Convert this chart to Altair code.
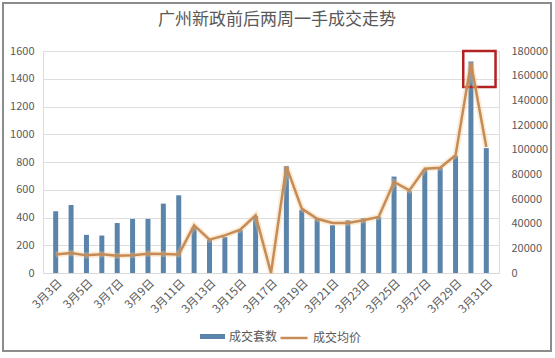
import altair as alt
import pandas as pd

days = list(range(3, 32))
units = [445, 490, 275, 270, 360, 390, 390, 500, 560, 330, 240, 260, 310, 410, 0,
         770, 455, 395, 345, 380, 395, 405, 695, 590, 745, 760, 845, 1525, 900]
price = [15000, 16200, 14300, 15100, 14000, 14300, 15700, 15400, 15100, 38600, 27000,
         30500, 35100, 46750, 0, 86500, 52200, 44000, 40500, 40500, 42700, 45400,
         73800, 67000, 84600, 85400, 95400, 170300, 102200]
label_days = list(range(3, 32, 2))
series_bar = "成交套数"
series_line = "成交均价"
title_text = "广州新政前后两周一手成交走势"

# highlight box (data coords: day range, left-axis range)
box_x = [29.5]
box_x2 = [31.6]
box_y = [1340]
box_y2 = [1600]

FONT = "Noto Sans CJK SC"
GREY = "#595959"
BLUE = "#5b84ab"
ORANGE = "#c68c57"

df = pd.DataFrame({"day": days, "units": units, "price": price,
                   "s": series_bar, "t": series_line})
box_df = pd.DataFrame({"x": box_x, "x2": box_x2, "y": box_y, "y2": box_y2})
frame_df = pd.DataFrame({"a": [0]})

xscale = alt.Scale(domain=[2.5, 31.5], nice=False, zero=False)
xaxis = alt.Axis(values=label_days, labelExpr="'3月' + datum.value + '日'",
                 labelAngle=-45, labelFontSize=11.5, labelColor=GREY, labelFont=FONT,
                 grid=False, ticks=False, domainColor="#d9d9d9", title=None,
                 labelPadding=4, labelOverlap=False)

left_scale = alt.Scale(domain=[0, 1600], nice=False)
right_scale = alt.Scale(domain=[0, 180000], nice=False)

bars = alt.Chart(df).mark_bar(size=5).encode(
    x=alt.X("day:Q", scale=xscale, axis=xaxis),
    y=alt.Y("units:Q", scale=left_scale,
            axis=alt.Axis(values=list(range(0, 1601, 200)), format="d", title=None,
                          domain=False, ticks=False, labelPadding=9, labelFontSize=11,
                          labelColor=GREY, labelFont=FONT, gridColor="#dedede")),
    color=alt.Color("s:N", scale=alt.Scale(domain=[series_bar], range=[BLUE]),
                    legend=alt.Legend(title=None, orient="none", legendX=157, legendY=273,
                                      symbolType="M-1,-0.2H1V0.2H-1Z", symbolSize=625,
                                      labelFontSize=12, labelColor=GREY, labelFont=FONT,
                                      symbolStrokeWidth=0)),
)

box = alt.Chart(box_df).mark_rect(filled=False, stroke="#b22222", strokeWidth=2.5).encode(
    x=alt.X("x:Q", scale=xscale, axis=xaxis),
    x2="x2:Q",
    y=alt.Y("y:Q", scale=left_scale, axis=None),
    y2="y2:Q",
)

glow = alt.Chart(df).mark_line(strokeWidth=6, color="#f5c98a", opacity=0.35).encode(
    x=alt.X("day:Q", scale=xscale, axis=xaxis),
    y=alt.Y("price:Q", scale=right_scale, axis=None),
)

line = alt.Chart(df).mark_line(strokeWidth=2.5).encode(
    x=alt.X("day:Q", scale=xscale, axis=xaxis),
    y=alt.Y("price:Q", scale=right_scale,
            axis=alt.Axis(orient="right", values=list(range(0, 180001, 20000)),
                          format="d", title=None, domain=False, ticks=False, grid=False,
                          labelPadding=12, labelFontSize=11, labelColor=GREY,
                          labelFont=FONT)),
    stroke=alt.Stroke("t:N", scale=alt.Scale(domain=[series_line], range=[ORANGE]),
                      legend=alt.Legend(title=None, orient="none", legendX=236, legendY=272,
                                        symbolType="stroke", symbolSize=730,
                                        symbolStrokeWidth=2.5,
                                        labelFontSize=12, labelColor=GREY, labelFont=FONT)),
)

frame = alt.Chart(frame_df).mark_rect(filled=False, stroke="#8c8c8c", strokeWidth=2).encode(
    x=alt.value(-40), x2=alt.value(508), y=alt.value(-48), y2=alt.value(300)
)

chart = alt.layer(frame, bars, box, glow, line).resolve_scale(
    y="independent", color="independent", stroke="independent"
).properties(
    width=456, height=222,
    title=alt.TitleParams(title_text, fontSize=17, font=FONT, color=GREY,
                          fontWeight="normal", anchor="middle", dx=6, offset=-27,
                          frame="group"),
    autosize=alt.AutoSizeParams(type="none"),
    padding={"left": 43, "top": 51, "right": 56, "bottom": 85},
).configure_view(stroke=None).configure_axisX(labelOverlap=False).configure(
    background="white")

chart.save("out.html", embed_options={"renderer": "svg", "actions": False})
